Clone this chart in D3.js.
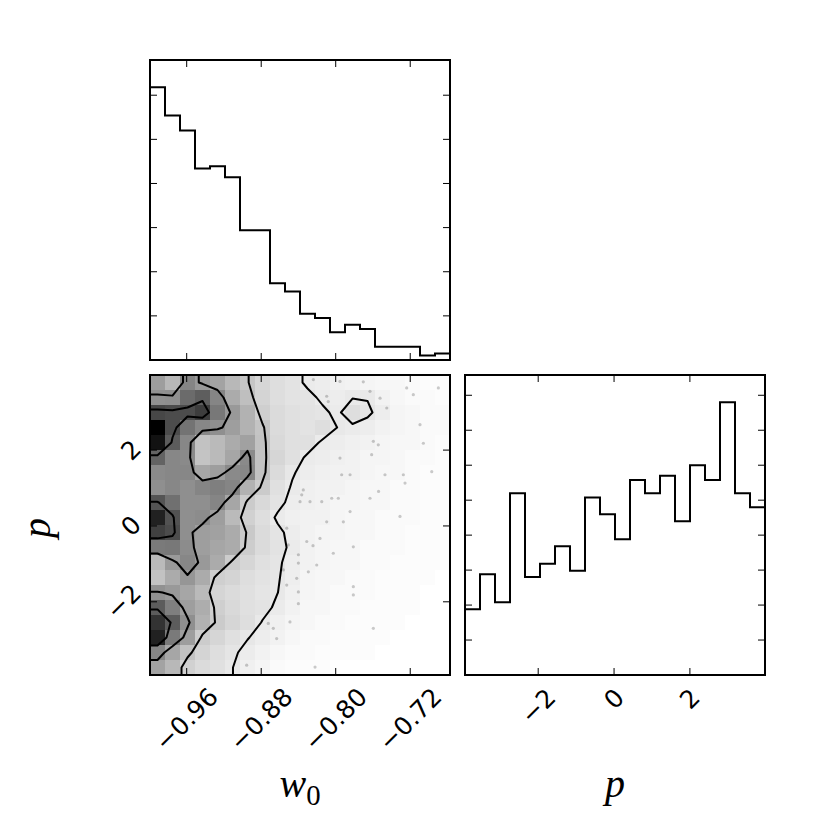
<!DOCTYPE html>
<html><head><meta charset="utf-8">
<script src="https://cdn.jsdelivr.net/npm/d3@7"></script>
<style>body{margin:0;background:#fff} svg{display:block}</style>
</head><body><svg id="c" width="825" height="825"></svg>
<script>
// ---------------- data ----------------
const w0Range = [-0.9994, -0.6773];
const pRange = [-3.93, 3.98];
const w0Hist = [618, 554, 520, 434, 439, 414, 294, 294, 174, 155, 105, 95, 63, 80, 70, 30, 30, 30, 10, 15];
const pHist = [94, 144, 104, 260, 140, 159, 184, 149, 254, 230, 194, 279, 260, 285, 220, 300, 279, 390, 260, 240];
const w0Ticks = [-0.96, -0.88, -0.80, -0.72];
const pTicks = [-2, 0, 2];
const w0HistTicks = [0, 100, 200, 300, 400, 500, 600];
const pHistTicks = [0, 50, 100, 150, 200, 250, 300, 350, 400];
// 2D histogram (w0 columns left->right, p rows from highest p at top to lowest)
const densityRowsTopDown = [
  [38, 28, 48, 40, 36, 28, 22.5, 16, 13, 11, 8, 7, 6, 5, 4, 3, 3, 2, 1, 1],
  [43, 44, 58, 63, 48, 33, 25, 17, 13, 11, 10.5, 8, 7, 8.7, 8.7, 5, 3, 2, 2, 1],
  [72, 70, 70, 76, 53, 40, 30, 19, 14, 12, 11, 10, 7.8, 13, 10, 7, 4, 3, 2, 2],
  [100, 70, 55, 47, 44, 38, 30, 23, 14, 12, 11, 13, 8.9, 7.8, 7, 5, 4, 3, 2, 2],
  [93, 64, 47, 24, 27, 33, 37, 24, 15, 12, 12, 8, 7, 6, 5, 4, 3, 3, 2, 1],
  [61, 47, 46, 23, 27, 35, 46, 24, 16, 12, 8, 7, 6, 5, 4, 4, 3, 2, 2, 1],
  [46, 47, 47, 35, 38, 46, 47, 24, 14, 9.5, 7, 6, 5, 5, 4, 3, 3, 2, 1, 1],
  [44, 47, 44, 48, 50, 48, 30, 20.5, 12, 8.4, 6, 5, 5, 4, 3, 3, 2, 2, 1, 1],
  [67, 56, 44, 44, 48, 35, 20.5, 15, 11, 7, 6, 5, 4, 4, 3, 3, 2, 2, 1, 1],
  [87, 68, 44, 45, 38, 27, 18, 13, 8, 6, 5, 5, 4, 3, 3, 2, 2, 2, 1, 1],
  [75, 70, 44, 38, 37, 33, 21, 14, 10.5, 7, 5, 4, 4, 3, 3, 2, 2, 1, 1, 1],
  [52, 53, 45, 38, 35, 33, 19.7, 14, 11, 7.7, 5, 4, 3, 3, 2, 2, 2, 1, 1, 1],
  [27, 40, 47, 40, 33, 20, 16, 12, 10, 6.7, 5, 4, 3, 3, 2, 2, 1, 1, 1, 1],
  [24, 33, 41, 33, 19, 17, 13, 11, 9.5, 6.5, 4, 3, 3, 2, 2, 1, 1, 1, 1, 0],
  [43, 40, 35, 27, 16.4, 14, 12, 10, 9.1, 6, 4, 3, 2, 2, 2, 1, 1, 1, 0, 0],
  [64, 50, 38, 32, 19, 15, 12, 11, 7.8, 5, 3, 3, 2, 2, 1, 1, 1, 1, 0, 0],
  [80, 64, 44, 30, 20.4, 16, 13, 8.6, 6, 4, 3, 2, 2, 1, 1, 1, 1, 0, 0, 0],
  [87, 52, 38, 20, 16, 12, 9.3, 7, 5, 3, 2, 2, 1, 1, 1, 1, 0, 0, 0, 0],
  [48, 35, 24, 17, 13, 10, 7.3, 5, 3, 2, 2, 1, 1, 1, 1, 0, 0, 0, 0, 0],
  [36, 28, 18, 14, 12, 9.1, 6, 4, 2, 1, 1, 1, 0, 0, 0, 0, 0, 0, 0, 0]
];
const contourLevels = [9, 22, 42, 66];
// visible individual samples outside the outer contour
const sampleW0 = [-0.824, -0.8097, -0.7954, -0.7704, -0.7632, -0.7524, -0.7452, -0.7238, -0.7167, -0.7095, -0.7059, -0.6898, -0.6969, -0.7274, -0.7256, -0.7471, -0.754, -0.7632, -0.7614, -0.7543, -0.7954, -0.7846, -0.7936, -0.7972, -0.8043, -0.815, -0.8276, -0.8348, -0.8383, -0.7846, -0.8097, -0.8169, -0.8311, -0.7811, -0.8026, -0.8204, -0.8294, -0.8419, -0.8526, -0.8526, -0.7811, -0.7811, -0.7596, -0.8491, -0.8724, -0.867, -0.8992, -0.8956, -0.8222, -0.731, -0.8634, -0.8562, -0.808, -0.7596, -0.8365, -0.7918, -0.8509, -0.8401, -0.8401, -0.8401, -0.8401, -0.8244];
const sampleP = [3.86, 3.42, 3.81, 3.80, 3.55, 3.37, 3.11, 3.64, 3.46, 2.67, 2.18, 3.64, 1.43, 1.35, 1.13, 1.35, 0.91, 0.73, 1.88, 2.14, 1.79, 1.35, 1.35, 0.73, 0.73, 0.64, 0.64, 0.95, 0.64, 0.38, 0.11, -0.33, -0.41, -0.55, -0.72, -1.03, -1.21, -1.38, -1.56, -0.06, -1.60, -1.82, -2.70, -2.53, -2.57, -2.70, -3.06, -3.67, -3.72, 0.25, -2.97, -1.16, 3.28, 2.23, 0.82, 0.11, -0.50, -0.76, -0.98, -1.74, -2.05, -0.52];
const xLabel1 = "w", xLabel1Sub = "0", pLabel = "p";

// ---------------- layout ----------------
const svg = d3.select("#c");
const S = 300;
const panels = {
  top: {x: 150, y: 60},
  joint: {x: 150, y: 375},
  right: {x: 465, y: 375}
};
const nB = 20;
const edges = (r) => d3.range(nB + 1).map(i => r[0] + i * (r[1] - r[0]) / nB);
const w0Edges = edges(w0Range), pEdges = edges(pRange);
const bw = (w0Range[1] - w0Range[0]) / nB, bh = (pRange[1] - pRange[0]) / nB;

const xTop = d3.scaleLinear().domain(w0Range).range([150, 450]);
const yTop = d3.scaleLinear().domain([0, 1.1 * d3.max(w0Hist)]).range([360, 60]);
const xJ = d3.scaleLinear().domain(w0Range).range([150, 450]);
const yJ = d3.scaleLinear().domain(pRange).range([675, 375]);
const xR = d3.scaleLinear().domain(pRange).range([465, 765]);
const yR = d3.scaleLinear().domain([0, 1.1 * d3.max(pHist)]).range([675, 375]);

const defs = svg.append("defs");
function clip(id, p) {
  defs.append("clipPath").attr("id", id).append("rect")
    .attr("x", p.x).attr("y", p.y).attr("width", S).attr("height", S);
}
clip("cTop", panels.top); clip("cJ", panels.joint); clip("cR", panels.right);

const TL = 7;
function ticks(g, p, xs, xv, ys, yv) {
  const tg = g.append("g").attr("stroke", "#000").attr("stroke-width", 1);
  xv.forEach(v => {
    const x = xs(v);
    tg.append("line").attr("x1", x).attr("x2", x).attr("y1", p.y + S).attr("y2", p.y + S - TL);
    tg.append("line").attr("x1", x).attr("x2", x).attr("y1", p.y).attr("y2", p.y + TL);
  });
  yv.forEach(v => {
    const y = ys(v);
    tg.append("line").attr("x1", p.x).attr("x2", p.x + TL).attr("y1", y).attr("y2", y);
    tg.append("line").attr("x1", p.x + S).attr("x2", p.x + S - TL).attr("y1", y).attr("y2", y);
  });
}
function frame(g, p) {
  g.append("rect").attr("x", p.x).attr("y", p.y).attr("width", S).attr("height", S)
    .attr("fill", "none").attr("stroke", "#000").attr("stroke-width", 2);
}
function stepHist(g, xs, ys, e, h, clipId) {
  const pts = h.map((c, i) => [e[i], c]).concat([[e[nB], h[nB - 1]]]);
  g.append("path").attr("clip-path", `url(#${clipId})`)
    .attr("d", d3.line().x(d => xs(d[0])).y(d => ys(d[1])).curve(d3.curveStepAfter)(pts))
    .attr("fill", "none").attr("stroke", "#000").attr("stroke-width", 2);
}

// ---------- top histogram ----------
const gT = svg.append("g");
stepHist(gT, xTop, yTop, w0Edges, w0Hist, "cTop");
ticks(gT, panels.top, xTop, w0Ticks, yTop, w0HistTicks);
frame(gT, panels.top);

// ---------- right histogram ----------
const gR = svg.append("g");
stepHist(gR, xR, yR, pEdges, pHist, "cR");
ticks(gR, panels.right, xR, pTicks, yR, pHistTicks);
frame(gR, panels.right);

// ---------- joint panel ----------
const gJ = svg.append("g").attr("clip-path", "url(#cJ)");
// samples
gJ.append("g").selectAll("circle").data(sampleW0.map((w, i) => [w, sampleP[i]])).join("circle")
  .attr("cx", d => xJ(d[0])).attr("cy", d => yJ(d[1])).attr("r", 1.6)
  .attr("fill", "#000").attr("fill-opacity", 0.2);

// contours on padded grid (edge values extended outward)
const N = 20, P = N + 4;
const padded = new Array(P * P).fill(0);
for (let gy = 1; gy < P - 1; gy++) for (let gx = 1; gx < P - 1; gx++) {
  const r = Math.min(N - 1, Math.max(0, gy - 2)), c = Math.min(N - 1, Math.max(0, gx - 2));
  padded[gy * P + gx] = densityRowsTopDown[r][c];
}
const cont = d3.contours().size([P, P]).thresholds(contourLevels)(padded);
const proj = d3.geoTransform({
  point(gx, gy) { this.stream.point(xJ(w0Range[0] + (gx - 2) * bw), yJ(pRange[1] - (gy - 2) * bh)); }
});
const gp = d3.geoPath(proj);
// white fill inside outer contour
gJ.append("path").attr("d", gp(cont[0])).attr("fill", "#fff").attr("stroke", "none");
// cells
const hMax = d3.max(densityRowsTopDown.flat());
const cells = [];
densityRowsTopDown.forEach((row, r) => row.forEach((v, c) => cells.push({r, c, v})));
gJ.append("g").attr("shape-rendering", "crispEdges").selectAll("rect").data(cells).join("rect")
  .attr("x", d => xJ(w0Edges[d.c])).attr("width", d => xJ(w0Edges[d.c + 1]) - xJ(w0Edges[d.c]))
  .attr("y", d => yJ(pEdges[nB - d.r])).attr("height", d => yJ(pEdges[nB - d.r - 1]) - yJ(pEdges[nB - d.r]))
  .attr("fill", "#000").attr("fill-opacity", d => d.v / hMax);
// contour lines
gJ.append("g").selectAll("path").data(cont).join("path")
  .attr("d", d => gp(d)).attr("fill", "none").attr("stroke", "#000")
  .attr("stroke-width", 2).attr("stroke-linejoin", "round");
const gJ2 = svg.append("g");
ticks(gJ2, panels.joint, xJ, w0Ticks, yJ, pTicks);
frame(gJ2, panels.joint);

// ---------- tick labels ----------
const FS = 25;
const fmt2 = d3.format(".2f"), fmt0 = d3.format("d");
function rotLabel(text, place) {
  const g = svg.append("g");
  const t = g.append("text").text(text)
    .attr("font-family", "DejaVu Sans").attr("font-size", FS)
    .attr("text-anchor", "middle").attr("dominant-baseline", "central").attr("fill", "#000");
  const w = t.node().getComputedTextLength();
  const half = (w + 0.72 * FS) * 0.7071 / 2;
  const [cx, cy] = place(half);
  g.attr("transform", `translate(${cx},${cy}) rotate(-45)`);
}
w0Ticks.forEach(v => rotLabel(fmt2(v), h => [xJ(v), 686 + h]));
pTicks.forEach(v => rotLabel(fmt0(v), h => [xR(v), 687 + h]));
pTicks.forEach(v => rotLabel(fmt0(v), h => [143 - h, yJ(v)]));

// ---------- axis labels ----------
const LF = 40;
const t1 = svg.append("text").attr("x", 300).attr("y", 797).attr("text-anchor", "middle")
  .attr("font-family", "Liberation Serif").attr("font-size", LF).attr("fill", "#000");
t1.append("tspan").attr("font-style", "italic").text(xLabel1);
t1.append("tspan").attr("font-size", LF * 0.72).attr("dy", 8).text(xLabel1Sub);
svg.append("text").attr("x", 615).attr("y", 797).attr("text-anchor", "middle")
  .attr("font-family", "Liberation Serif").attr("font-style", "italic").attr("font-size", LF)
  .attr("fill", "#000").text(pLabel);
svg.append("text").attr("transform", "translate(50,528) rotate(-90)").attr("text-anchor", "middle")
  .attr("font-family", "Liberation Serif").attr("font-style", "italic").attr("font-size", LF)
  .attr("fill", "#000").text(pLabel);
</script></body></html>
